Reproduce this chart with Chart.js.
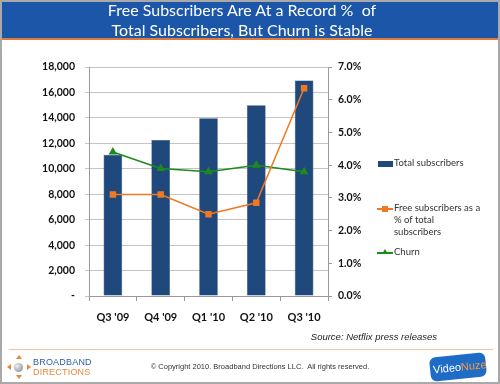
<!DOCTYPE html>
<html>
<head>
<meta charset="utf-8">
<script src="https://cdn.jsdelivr.net/npm/chart.js@4.4.0/dist/chart.umd.min.js"></script>
<style>
  body { margin: 0; background: #fff; }
  #frame { position: relative; width: 500px; height: 384px; overflow: hidden; background: #fff; }
  #border { position: absolute; left: 0; top: 0; width: 496px; height: 380px; border: 2px solid #a9a9a9; }
  #banner { position: absolute; left: 2px; top: 2px; width: 496px; height: 36px; background: #1b56a9; border-bottom: 2px solid #e07a3a; }
  #title { position: absolute; left: 0; top: -2px; width: 480px; text-align: center; color: #fff; font-family: Lato, sans-serif; font-size: 16px; line-height: 20px; }
  #myChart { position: absolute; left: 0; top: 0; }
  .leg { position: absolute; font-family: Lato, sans-serif; font-size: 9.5px; color: #333; line-height: 12px; }
  #source { position: absolute; left: 250px; width: 187px; top: 331px; text-align: right; font-family: "Liberation Sans", Arial, sans-serif; font-style: italic; font-size: 9.5px; color: #222; }
  #sep { position: absolute; left: 9px; width: 484px; top: 349px; height: 1px; background: #f2c39a; }
  #copy { position: absolute; left: 100px; width: 320px; top: 362px; text-align: center; font-family: "Liberation Sans", Arial, sans-serif; font-size: 7.5px; color: #333; }
  #bd1 { position: absolute; left: 33px; top: 357px; font-family: "Liberation Sans", Arial, sans-serif; font-size: 9px; color: #2f5fa8; letter-spacing: 0.2px; }
  #bd2 { position: absolute; left: 33px; top: 367px; font-family: "Liberation Sans", Arial, sans-serif; font-size: 9px; color: #e8893a; letter-spacing: 0.2px; }
  #sphere { position: absolute; left: 14px; top: 363px; width: 9px; height: 9px; border-radius: 50%; background: radial-gradient(circle at 35% 35%, #eee, #7a7f8a); }
  .arr { position: absolute; width: 0; height: 0; }
  #vn { position: absolute; left: 430px; top: 355px; width: 56px; height: 24px; background: #1f6cc6; border-radius: 6px; transform: rotate(-6deg); font-family: "Liberation Sans", Arial, sans-serif; font-size: 11px; line-height: 24px; color: #fff; padding-left: 3px; box-sizing: border-box; }
</style>
</head>
<body>
<div id="frame">
  <canvas id="myChart" width="500" height="384"></canvas>
  <div id="border"></div>
  <div id="banner"><div id="title">Free Subscribers Are At a Record %&nbsp; of<br>Total Subscribers, But Churn is Stable</div></div>

  <div id="legend"></div>

  <div id="source">Source: Netflix press releases</div>
  <div id="sep"></div>
  <div id="copy">© Copyright 2010. Broadband Directions LLC.&nbsp; All rights reserved.</div>

  <div class="arr" style="left:16px;top:355px;border-left:3px solid transparent;border-right:3px solid transparent;border-bottom:4px solid #e8893a;"></div>
  <div class="arr" style="left:16px;top:375px;border-left:3px solid transparent;border-right:3px solid transparent;border-top:4px solid #e8893a;"></div>
  <div class="arr" style="left:7px;top:364px;border-top:3px solid transparent;border-bottom:3px solid transparent;border-right:4px solid #e8893a;"></div>
  <div class="arr" style="left:27px;top:364px;border-top:3px solid transparent;border-bottom:3px solid transparent;border-left:4px solid #e8893a;"></div>
  <div id="sphere"></div>
  <div id="bd1">BROADBAND</div>
  <div id="bd2">DIRECTIONS</div>
  <div id="vn">Video<span style="color:#f39a3c">Nuze</span></div>
</div>

<script>
// quarters and values
let quarters = ["Q3 '09", "Q4 '09", "Q1 '10", "Q2 '10", "Q3 '10"];
let totalSubs = [11100, 12270, 13970, 14990, 16930];
let freePct = [3.1, 3.1, 2.5, 2.85, 6.35];
let churnPct = [4.4, 3.9, 3.8, 4.0, 3.8];

let leftTicks = [0, 2000, 4000, 6000, 8000, 10000, 12000, 14000, 16000, 18000];

let blue = "#1f497d";
let orange = "#f07823";
let green = "#1e8a1e";

Chart.defaults.font.family = "Lato, sans-serif";
Chart.defaults.color = "#111";

// legend as html, built from the dataset colours
let legendItems = [
  { text: "Total subscribers", color: blue, kind: "bar", top: 157 },
  { text: "Free subscribers as a<br>% of total<br>subscribers", color: orange, kind: "rect", top: 202 },
  { text: "Churn", color: green, kind: "tri", top: 246 },
];
let legendBox = document.getElementById("legend");
legendItems.forEach((item) => {
  let sw = "";
  if (item.kind == "bar") {
    sw = '<div style="position:absolute;left:378px;top:' + (item.top + 4) + 'px;width:15px;height:6px;background:' + item.color + '"></div>';
  } else {
    sw = '<div style="position:absolute;left:377px;top:' + (item.top + 6) + 'px;width:16px;height:1.5px;background:' + item.color + '"></div>';
    if (item.kind == "rect") {
      sw += '<div style="position:absolute;left:382px;top:' + (item.top + 4) + 'px;width:6px;height:6px;background:' + item.color + '"></div>';
    } else {
      sw += '<div style="position:absolute;left:382px;top:' + (item.top + 3) + 'px;width:0;height:0;border-left:3px solid transparent;border-right:3px solid transparent;border-bottom:5px solid ' + item.color + '"></div>';
    }
  }
  legendBox.innerHTML += sw + '<div class="leg" style="left:394px;top:' + item.top + 'px">' + item.text + "</div>";
});

let ctx = document.getElementById("myChart");
let myChart = new Chart(ctx, {
  type: "bar",
  data: {
    labels: quarters,
    datasets: [
      {
        type: "line",
        label: "Free subscribers as a % of total subscribers",
        data: freePct,
        yAxisID: "y2",
        borderColor: orange,
        backgroundColor: orange,
        borderWidth: 1.5,
        pointStyle: "rect",
        pointRadius: 3.5,
        tension: 0,
        order: 1,
      },
      {
        type: "line",
        label: "Churn",
        data: churnPct,
        yAxisID: "y2",
        borderColor: green,
        backgroundColor: green,
        borderWidth: 1.5,
        pointStyle: "triangle",
        pointRadius: 3.5,
        tension: 0,
        order: 1,
      },
      {
        label: "Total subscribers",
        data: totalSubs,
        yAxisID: "y",
        backgroundColor: blue,
        borderColor: "#173a66",
        borderWidth: 0.5,
        barPercentage: 0.78,
        categoryPercentage: 0.5,
        order: 2,
      },
    ],
  },
  options: {
    responsive: false,
    animation: false,
    layout: { padding: { left: 0, right: 0, top: 67, bottom: 0 } },
    plugins: { legend: { display: false }, tooltip: { enabled: false } },
    scales: {
      x: {
        grid: { drawOnChartArea: false, tickLength: 5, color: "#999", offset: true },
        border: { color: "#999" },
        ticks: { padding: 10, font: { size: 11, weight: "bold" } },
        afterFit: (scale) => { scale.height = 88; },
      },
      y: {
        position: "left",
        min: 0,
        max: 18000,
        afterBuildTicks: (scale) => { scale.ticks = leftTicks.map((v) => ({ value: v })); },
        grid: { color: "#c4c4c4", tickLength: 4 },
        border: { color: "#999" },
        ticks: {
          padding: 10,
          font: { size: 10.5, weight: "bold" },
          callback: (v) => (v == 0 ? "-" : v.toLocaleString("en-US")),
        },
        afterFit: (scale) => { scale.width = 89; },
      },
      y2: {
        position: "right",
        min: 0,
        max: 7,
        grid: { drawOnChartArea: false, tickLength: 4, color: "#999" },
        border: { color: "#999" },
        ticks: {
          stepSize: 1,
          padding: 6,
          font: { size: 10.5, weight: "bold" },
          callback: (v) => v.toFixed(1) + "%",
        },
        afterFit: (scale) => { scale.width = 172; },
      },
    },
  },
});
</script>
</body>
</html>
